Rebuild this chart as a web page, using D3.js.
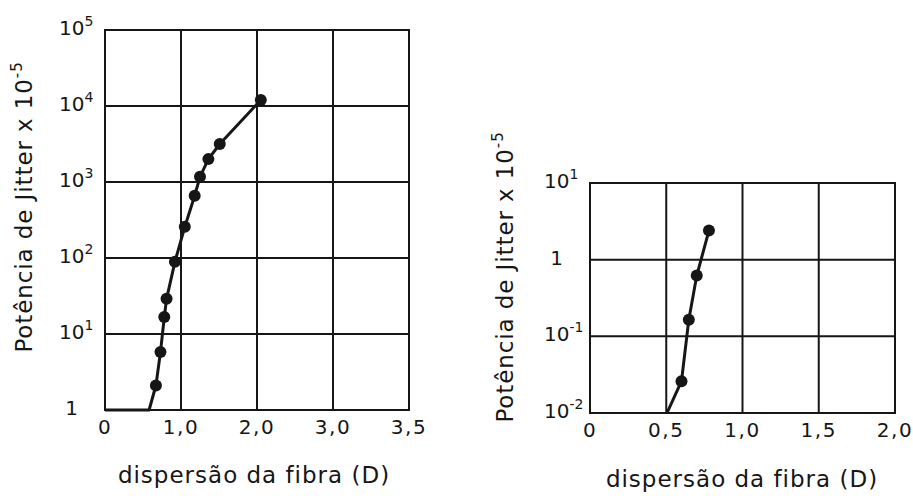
<!DOCTYPE html>
<html>
<head>
<meta charset="utf-8">
<script src="https://cdn.jsdelivr.net/npm/d3@7"></script>
<style>
  body { margin: 0; background: #fff; }
  text { fill: #161616; }
</style>
</head>
<body>
<div id="chart"></div>
<script>
// Left panel: jitter power vs fibre dispersion (x axis has uneven last step 3,0 -> 3,5)
const leftTickX = [0, 1, 2, 3, 3.5];
const leftTickXLabels = ['0', '1,0', '2,0', '3,0', '3,5'];
const leftTickYExp = [0, 1, 2, 3, 4, 5];
// unmarked part of the curve (flat run along the bottom)
const leftCurveD = [0, 0.58];
const leftCurveP = [1, 1];
// measured points (markers)
const leftPointD = [0.67, 0.73, 0.78, 0.81, 0.92, 1.05, 1.18, 1.25, 1.36, 1.51, 2.05];
const leftPointP = [2.1, 5.8, 16.7, 29, 89, 257, 660, 1170, 2000, 3160, 12000];

// Right panel
const rightTickX = [0, 0.5, 1, 1.5, 2];
const rightTickXLabels = ['0', '0,5', '1,0', '1,5', '2,0'];
const rightTickYExp = [-2, -1, 0, 1];
const rightCurveD = [0.505];
const rightCurveP = [0.01];
const rightPointD = [0.60, 0.648, 0.70, 0.78];
const rightPointP = [0.026, 0.165, 0.62, 2.4];

const yTitle = 'Potência de Jitter x 10';
const yTitleSup = '-5';
const xTitle = 'dispersão da fibra (D)';

const width = 913, height = 496;
const ink = '#161616';

const svg = d3.select('#chart').append('svg')
    .attr('width', width)
    .attr('height', height)
    .style('font-family', '"DejaVu Sans", sans-serif');

svg.append('rect').attr('width', width).attr('height', height).attr('fill', '#fff');

/* Draws one log-scale panel with its grid, curve, markers and titles */
function drawPanel(p) {
    // x positions of the ticks are evenly spaced, so the scale is piecewise
    var step = (p.x1 - p.x0) / (p.tickX.length - 1);
    var x = d3.scaleLinear()
        .domain(p.tickX)
        .range(p.tickX.map(function(d, i) { return p.x0 + i * step; }));
    var yDomain = [Math.pow(10, d3.min(p.tickYExp)), Math.pow(10, d3.max(p.tickYExp))];
    var y = d3.scaleLog().domain(yDomain).range([p.y1, p.y0]);

    var g = svg.append('g');

    // vertical grid lines (outer ones form the frame)
    g.selectAll('.vgrid')
        .data(p.tickX)
        .enter().append('line')
        .attr('x1', function(d) { return x(d); })
        .attr('x2', function(d) { return x(d); })
        .attr('y1', p.y0 - 1)
        .attr('y2', p.y1 + 1)
        .attr('stroke', ink)
        .attr('stroke-width', 2);

    // horizontal grid lines
    g.selectAll('.hgrid')
        .data(p.tickYExp)
        .enter().append('line')
        .attr('x1', p.x0 - 1)
        .attr('x2', p.x1 + 1)
        .attr('y1', function(d) { return y(Math.pow(10, d)); })
        .attr('y2', function(d) { return y(Math.pow(10, d)); })
        .attr('stroke', ink)
        .attr('stroke-width', 2);

    // x tick labels
    g.selectAll('.xlab')
        .data(p.tickX)
        .enter().append('text')
        .attr('x', function(d) { return x(d); })
        .attr('y', p.y1 + p.xLabDy)
        .attr('text-anchor', 'middle')
        .style('font-size', '20px')
        .style('letter-spacing', '1.5px')
        .text(function(d, i) { return p.tickXLabels[i]; });

    // y tick labels: "1" alone, otherwise 10 with a superscript exponent
    p.tickYExp.forEach(function(e) {
        var yy = y(Math.pow(10, e)) + 5;
        if (e === 0) {
            g.append('text')
                .attr('x', p.x0 - 27)
                .attr('y', yy)
                .attr('text-anchor', 'end')
                .style('font-size', '20px')
                .text('1');
        } else {
            var t = g.append('text')
                .attr('x', p.x0 - 46)
                .attr('y', yy)
                .style('font-size', '20px')
                .text('10');
            t.append('tspan')
                .attr('dy', -9)
                .style('font-size', '14px')
                .text(String(e));
        }
    });

    // the curve: unmarked start followed by the measured points
    var curve = p.curveD.map(function(d, i) { return [d, p.curveP[i]]; })
        .concat(p.pointD.map(function(d, i) { return [d, p.pointP[i]]; }));
    var line = d3.line()
        .x(function(d) { return x(d[0]); })
        .y(function(d) { return y(d[1]); });

    g.append('path')
        .attr('d', line(curve))
        .attr('fill', 'none')
        .attr('stroke', ink)
        .attr('stroke-width', 3)
        .attr('stroke-linejoin', 'round');

    // markers
    g.selectAll('.pt')
        .data(p.pointD)
        .enter().append('circle')
        .attr('cx', function(d) { return x(d); })
        .attr('cy', function(d, i) { return y(p.pointP[i]); })
        .attr('r', 6)
        .attr('fill', ink);

    // x axis title
    g.append('text')
        .attr('x', p.xTitleX)
        .attr('y', p.xTitleY)
        .attr('text-anchor', 'middle')
        .style('font-size', '23px')
        .style('letter-spacing', '1px')
        .text(xTitle);

    // y axis title (rotated)
    var yt = g.append('text')
        .attr('transform', 'translate(' + p.yTitleX + ',' + p.yTitleY + ') rotate(-90)')
        .attr('text-anchor', 'middle')
        .style('font-size', '23px')
        .style('letter-spacing', '0.9px')
        .text(yTitle);
    yt.append('tspan')
        .attr('dy', -10)
        .style('font-size', '15px')
        .text(yTitleSup);
}

drawPanel({
    x0: 105, x1: 409, y0: 30, y1: 410,
    tickX: leftTickX, tickXLabels: leftTickXLabels, tickYExp: leftTickYExp,
    curveD: leftCurveD, curveP: leftCurveP,
    pointD: leftPointD, pointP: leftPointP,
    xLabDy: 24,
    xTitleX: 254, xTitleY: 483,
    yTitleX: 32, yTitleY: 207
});

drawPanel({
    x0: 590, x1: 895, y0: 183, y1: 413,
    tickX: rightTickX, tickXLabels: rightTickXLabels, tickYExp: rightTickYExp,
    curveD: rightCurveD, curveP: rightCurveP,
    pointD: rightPointD, pointP: rightPointP,
    xLabDy: 24,
    xTitleX: 742, xTitleY: 487,
    yTitleX: 513, yTitleY: 277
});
</script>
</body>
</html>
